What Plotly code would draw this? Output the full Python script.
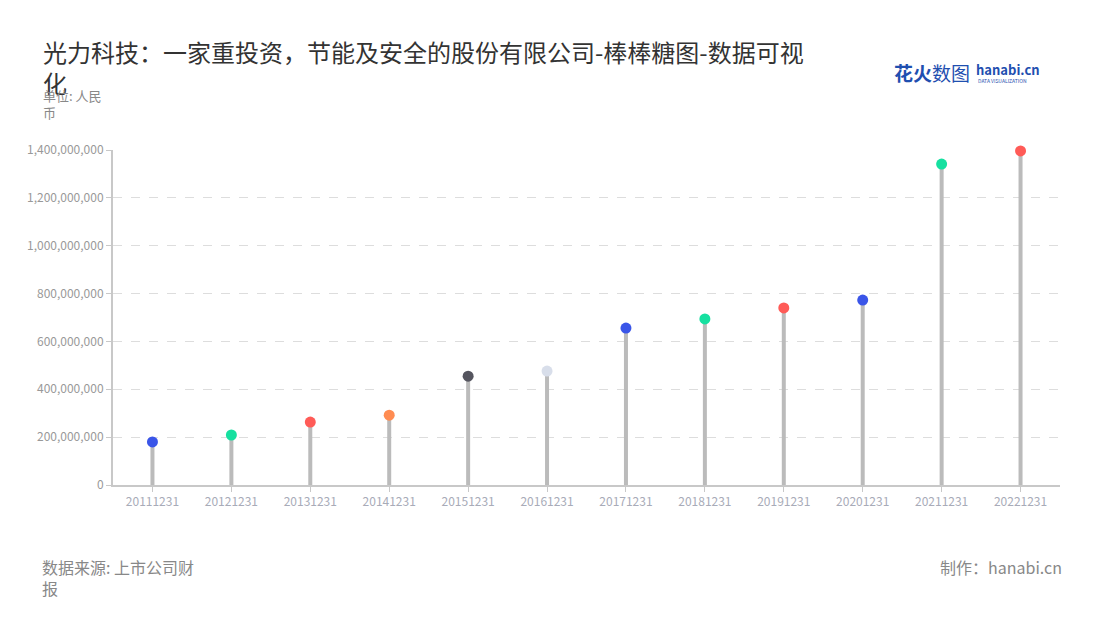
import plotly.graph_objects as go

categories = ["20111231", "20121231", "20131231", "20141231", "20151231", "20161231",
              "20171231", "20181231", "20191231", "20201231", "20211231", "20221231"]
values = [180e6, 209e6, 263e6, 292e6, 455e6, 476e6, 656e6, 694e6, 740e6, 773e6, 1341e6, 1396e6]
dot_colors = ["#3A55E8", "#16E0A0", "#FF5B57", "#FF8C52", "#55555F", "#D8DEEA",
              "#3A55E8", "#16E0A0", "#FF5B57", "#3A55E8", "#16E0A0", "#FF5B57"]
y_ticks = [0, 200e6, 400e6, 600e6, 800e6, 1000e6, 1200e6, 1400e6]

FONT = "Noto Sans CJK SC"
OFF = 8  # page body margin
W, H = 1100, 620
PL, PR, PT, PB = 113, 1060, 150, 485  # plot area in page pixels

stem_x, stem_y = [], []
for c, v in zip(categories, values):
    stem_x += [c, c, None]
    stem_y += [0, v, None]

fig = go.Figure()
fig.add_trace(go.Scatter(x=stem_x, y=stem_y, mode="lines",
                         line=dict(color="#BBBBBB", width=4),
                         hoverinfo="skip", showlegend=False, cliponaxis=False))
fig.add_trace(go.Scatter(x=categories, y=values, mode="markers",
                         marker=dict(color=dot_colors, size=11, line=dict(width=0)),
                         showlegend=False, cliponaxis=False))

fig.update_layout(
    width=W, height=H,
    paper_bgcolor="white", plot_bgcolor="white",
    margin=dict(l=PL - OFF, r=W - PR + OFF, t=PT - OFF, b=H - PB + OFF),
    font=dict(family=FONT, color="#999"),
    title=dict(text="光力科技：一家重投资，节能及安全的股份有限公司-棒棒糖图-数据可视<br>化",
               x=(43 - OFF) / W, xanchor="left", y=1 - (62 - OFF) / H, yanchor="top",
               font=dict(family=FONT, size=24, color="#333")),
    xaxis=dict(type="category", categoryorder="array", categoryarray=categories,
               range=[-0.5, 11.5], showgrid=False,
               showline=True, linecolor="#C8C8C8", linewidth=2,
               ticks="outside", ticklen=5, tickcolor="#C8C8C8",
               tickfont=dict(family=FONT, size=12, color="#A8ABB8")),
    yaxis=dict(range=[0, 1400e6], tickvals=y_ticks, tickformat=",",
               showgrid=True, gridcolor="#DDDDDD", griddash="dash", gridwidth=1,
               showline=True, linecolor="#C8C8C8", linewidth=2,
               ticks="outside", ticklen=5, tickcolor="#C8C8C8",
               zeroline=False,
               tickfont=dict(family=FONT, size=12, color="#999")),
)

annotations = [
    dict(text="单位: 人民<br>币", x=41, y=104, xanchor="left", yanchor="middle",
         align="left", font=dict(family=FONT, size=13, color="#888")),
    dict(text="数据来源: 上市公司财<br>报", x=40, y=577, xanchor="left", yanchor="middle",
         align="left", font=dict(family=FONT, size=16, color="#888")),
    dict(text="制作：hanabi.cn", x=1064, y=567, xanchor="right", yanchor="middle",
         font=dict(family=FONT, size=16, color="#888")),
    dict(text="<b>花火</b>数图", x=892, y=72, xanchor="left", yanchor="middle",
         font=dict(family=FONT, size=19, color="#1F4FB0")),
    dict(text="<b>hanabi.cn</b>", x=974, y=69, xanchor="left", yanchor="middle",
         font=dict(family=FONT, size=13, color="#1F4FB0")),
    dict(text="DATA VISUALIZATION", x=976, y=80, xanchor="left", yanchor="middle",
         font=dict(family=FONT, size=5, color="#1F4FB0")),
]
for a in annotations:
    a["x"] = (a["x"] - PL) / (PR - PL)
    a["y"] = (PB - a["y"]) / (PB - PT)
    a["xref"] = "paper"
    a["yref"] = "paper"
    a["showarrow"] = False
    fig.add_annotation(**a)

fig.write_html("out.html")
